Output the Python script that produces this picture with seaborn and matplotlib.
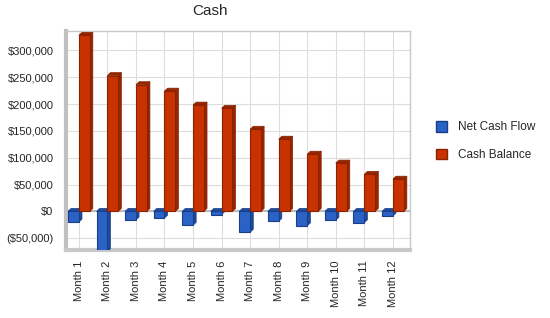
import numpy as np
import pandas as pd
import matplotlib
matplotlib.use("Agg")
import matplotlib.pyplot as plt
from matplotlib.patches import Polygon, Patch
from matplotlib.ticker import FuncFormatter
import seaborn as sns

# values
months = ["Month %d" % i for i in range(1, 13)]
net_cash_flow = [-20000, -75000, -16000, -12500, -26000, -6000,
                 -39000, -18500, -27000, -16500, -21000, -8500]
cash_balance = [328000, 253000, 236000, 224000, 198000, 192000,
                153000, 134500, 106500, 90000, 69000, 60000]
series_names = ["Net Cash Flow", "Cash Balance"]
colors = ["#2A62C6", "#C83200"]
edge_colors = ["#1A3F8A", "#8A2200"]
side_colors = ["#1D4A99", "#962600"]

df = pd.DataFrame({
    "month": months * 2,
    "value": net_cash_flow + cash_balance,
    "series": [series_names[0]] * 12 + [series_names[1]] * 12,
})

sns.set_style("white")
plt.rcParams["font.family"] = ["Liberation Sans", "DejaVu Sans"]

fig = plt.figure(figsize=(5.5, 3.18), dpi=100)
ax = fig.add_axes([66 / 550, 1 - 250 / 318, (410 - 66) / 550, (250 - 31) / 318])

sns.barplot(data=df, x="month", y="value", hue="series", palette=colors,
            width=0.76, gap=0, ax=ax, legend=False, saturation=1, zorder=3)

# fake 3D side and top faces from each bar's own geometry
dx, dy = 0.11, 5500
for p in list(ax.patches):
    fc = p.get_facecolor()
    idx = 0 if abs(fc[2] - matplotlib.colors.to_rgba(colors[0])[2]) < 0.05 else 1
    p.set_edgecolor(edge_colors[idx])
    p.set_linewidth(0.8)
    x0, w = p.get_x(), p.get_width()
    y0, h = p.get_y(), p.get_height()
    lo, hi = min(y0, y0 + h), max(y0, y0 + h)
    side = Polygon([(x0 + w, lo), (x0 + w + dx, lo + dy), (x0 + w + dx, hi + dy), (x0 + w, hi)],
                   closed=True, facecolor=side_colors[idx], edgecolor=edge_colors[idx],
                   linewidth=0.5, zorder=2.9)
    top = Polygon([(x0, hi), (x0 + dx, hi + dy), (x0 + w + dx, hi + dy), (x0 + w, hi)],
                  closed=True, facecolor=side_colors[idx], edgecolor=edge_colors[idx],
                  linewidth=0.5, zorder=2.9)
    ax.add_patch(side)
    ax.add_patch(top)

ax.set_xlim(-0.45, 11.6)
ax.set_ylim(-72000, 336000)
ax.set_yticks(np.arange(-50000, 300001, 50000))
ax.yaxis.set_major_formatter(FuncFormatter(
    lambda v, _: "$0" if v == 0 else ("(${:,.0f})".format(-v) if v < 0 else "${:,.0f}".format(v))))
ax.grid(True, color="#DDDDDD", linewidth=0.8, zorder=0)
ax.set_axisbelow(True)
ax.axhline(0, color="#BBBBBB", linewidth=1.5, zorder=2.5)

ax.set_xlabel("")
ax.set_ylabel("")
ax.tick_params(axis="x", rotation=90, labelsize=8, length=4, color="#BBBBBB")
ax.tick_params(axis="y", labelsize=8, length=0, pad=9)

for side_name in ["top", "right"]:
    ax.spines[side_name].set_color("#C8C8C8")
    ax.spines[side_name].set_linewidth(1)
ax.spines["left"].set_color("#C0C0C0")
ax.spines["left"].set_linewidth(3)
ax.spines["bottom"].set_color("#C8C8C8")
ax.spines["bottom"].set_linewidth(3)

fig.text(210 / 550, 1 - 11 / 318, "Cash", ha="center", va="center", fontsize=11)

handles = [Patch(facecolor=colors[i], edgecolor=edge_colors[i], label=series_names[i])
           for i in range(2)]
fig.legend(handles=handles, loc="center left", bbox_to_anchor=(425 / 550, 1 - 141 / 318),
           frameon=False, fontsize=8.5, handlelength=1.0, handleheight=1.0,
           labelspacing=1.3, handletextpad=0.9)

fig.savefig("out.png", dpi=100)
